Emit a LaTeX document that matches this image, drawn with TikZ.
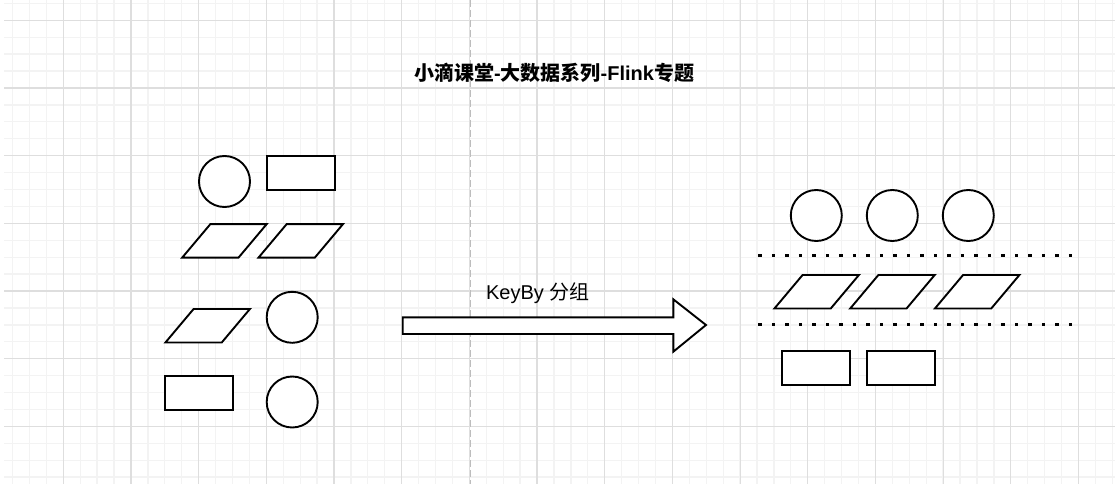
\documentclass[tikz,border=0pt]{standalone}
\usepackage{fontspec}
\setmainfont{Liberation Sans}
\newfontfamily\cjk{Noto Sans CJK SC}
\usetikzlibrary{shapes.geometric}
\definecolor{gridminor}{HTML}{F3F3F3}
\definecolor{gridmajor}{HTML}{DEDEDE}
\definecolor{divider}{HTML}{BDBDBD}
\begin{document}
\begin{tikzpicture}[x=1pt,y=-1pt,
  fig/.style={draw=black, line width=1.9pt, fill=white, inner sep=0pt, outer sep=0pt},
  circ/.style={fig, circle, minimum size=51pt},
  rectbox/.style={fig, rectangle, minimum width=68pt, minimum height=34pt},
  para/.style={fig, trapezium, trapezium left angle=45, trapezium right angle=135,
               trapezium stretches=true, inner sep=2pt, minimum width=84.5pt, minimum height=33.5pt},
  dotline/.style={line width=3.2pt, dash pattern=on 3.2pt off 10.3pt},
  lbl/.style={inner sep=0pt, font=\fontsize{20pt}{24pt}\selectfont}
]
\useasboundingbox (0,0) rectangle (1119,484);
\fill[white] (0,0) rectangle (1119,484);
% grid
\foreach \i in {1,...,66} {
  \draw[gridminor, line width=1.3pt] ({-4.4+16.92*\i},0) -- ({-4.4+16.92*\i},484);
}
\foreach \j in {0,...,28} {
  \draw[gridminor, line width=1.3pt] (4,{3.38+16.92*\j}) -- (1115,{3.38+16.92*\j});
}
\foreach \k in {0,...,15} {
  \draw[gridmajor, line width=1.2pt] ({63.3+67.68*\k},0) -- ({63.3+67.68*\k},484);
}
\foreach \k in {0,...,6} {
  \draw[gridmajor, line width=1.2pt] (4,{20.3+67.68*\k}) -- (1115,{20.3+67.68*\k});
}
% divider
\draw[divider, line width=1pt, dash pattern=on 7pt off 3pt] (470,0) -- (470,484);

% title
\node[lbl, font=\fontsize{20pt}{24pt}\selectfont\bfseries] (title) at (554,73)
  {\cjk 小滴课堂\rmfamily\bfseries -\cjk 大数据系列\rmfamily\bfseries -Flink\cjk 专题};

% left group
\node[circ] (lc1) at (224.5,181.5) {};
\node[rectbox] (lr1) at (300.7,173.2) {};
\node[para] (lp1) at (224.5,240.8) {};
\node[para] (lp2) at (300.8,240.8) {};
\node[para] (lp3) at (207.7,325.7) {};
\node[circ] (lc2) at (292.2,317.3) {};
\node[rectbox] (lr2) at (199.3,393.3) {};
\node[circ] (lc3) at (292.2,402) {};

% arrow
\draw[line width=1.9pt, fill=white, line join=miter]
  (402.7,317.3) -- (673.3,317.3) -- (673.3,299.3) -- (706,325) -- (673.3,351.7)
  -- (673.3,334) -- (402.7,334) -- cycle;
\node[lbl] (keyby) at (537.8,293.3) {KeyBy {\cjk 分组}};

% right group
\node[circ] (rc1) at (816.3,215.5) {};
\node[circ] (rc2) at (892.3,215.5) {};
\node[circ] (rc3) at (968.3,215.5) {};
\coordinate (d1s) at (758.3,255.3);
\coordinate (d1e) at (1072,255.3);
\coordinate (d2s) at (758.3,324.7);
\coordinate (d2e) at (1072,324.7);
\draw[dotline] (d1s) -- (d1e);
\draw[dotline] (d2s) -- (d2e);
\node[para] (rp1) at (816.7,291.7) {};
\node[para] (rp2) at (892.5,291.7) {};
\node[para] (rp3) at (977.2,291.7) {};
\node[rectbox] (rr1) at (816.3,368) {};
\node[rectbox] (rr2) at (901,368) {};
\end{tikzpicture}
\end{document}
